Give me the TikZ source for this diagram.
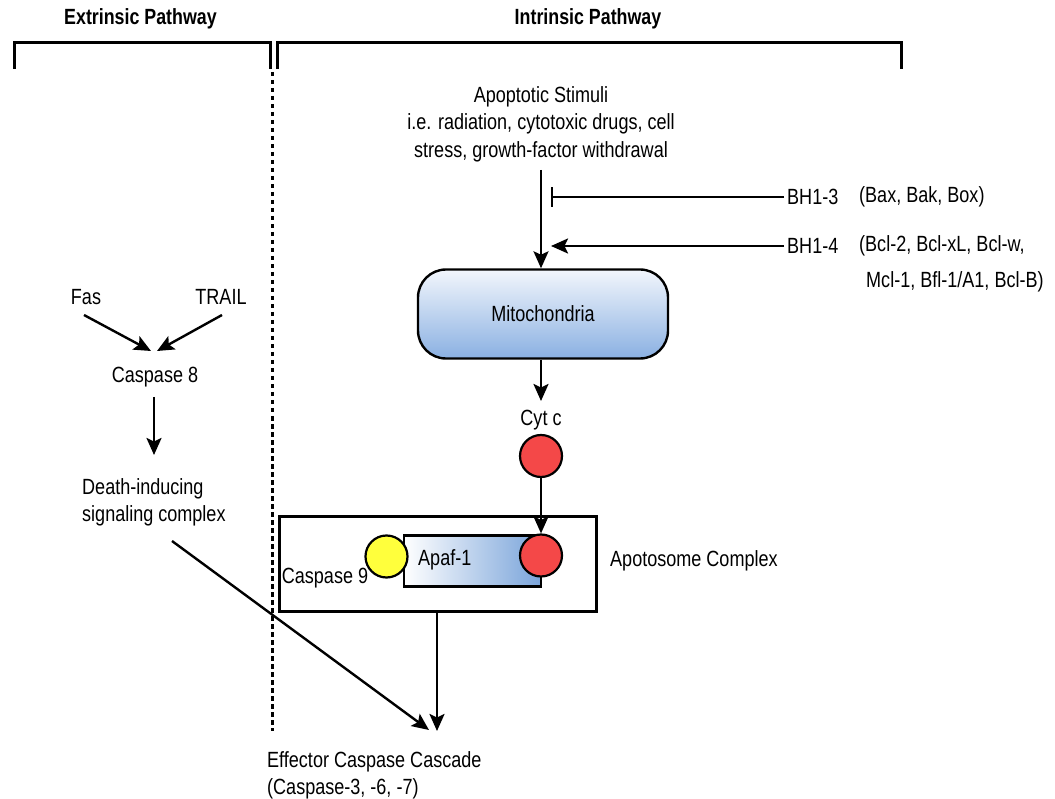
\documentclass[tikz,border=0pt]{standalone}
\usepackage{fontspec}
\setmainfont{Liberation Sans}[FakeStretch=0.82]
\newfontfamily\hdrfont{Liberation Sans Bold}[FakeStretch=0.81]
\usetikzlibrary{arrows.meta}
\definecolor{cytred}{RGB}{244,72,72}
\definecolor{casyel}{RGB}{255,255,60}
\definecolor{mitotop}{RGB}{242,246,252}
\definecolor{mitobot}{RGB}{138,176,226}
\definecolor{apafblue}{RGB}{122,164,218}
\begin{document}
\begin{tikzpicture}[x=1pt,y=-1pt,
  txt/.style={font=\fontsize{22}{27.5}\selectfont, inner sep=0pt},
  hdr/.style={font=\fontsize{22}{27}\selectfont\hdrfont, inner sep=0pt},
  arr/.style={line width=2.4pt, -{Stealth[length=17pt,width=15pt,inset=3.5pt]}},
  inhib/.style={line width=2.2pt, -{Bar[width=20pt,line width=2.2pt]}},
  brk/.style={line width=3pt},
  sep/.style={line width=3pt, dash pattern=on 4.5pt off 3.5pt},
  ball/.style={circle, draw, line width=2.2pt, minimum size=42pt, inner sep=0pt},
]
\useasboundingbox (0,0) rectangle (1055,799);

% headers and brackets
\node[hdr] (ext) at (140.5,19) {Extrinsic Pathway};
\node[hdr] (int) at (588,19) {Intrinsic Pathway};
\draw[brk] (14,69) |- (270,43) -- (270,69);
\draw[brk] (277,69) |- (901,43) -- (901,69);
\draw[sep] (272,72) -- (272,731);

% intrinsic pathway
\node[txt, align=center] (stim) at (541,124) {Apoptotic Stimuli\\i.e. radiation, cytotoxic drugs, cell\\stress, growth-factor withdrawal};
\node[draw, line width=2.4pt, rounded corners=28pt, minimum width=250pt, minimum height=89pt,
      top color=mitotop, bottom color=mitobot, txt] (mito) at (543,314) {Mitochondria};
\coordinate (stimout) at (541,170);
\draw[arr] (stimout) -- (mito.north -| stimout);

\node[txt, anchor=west] (bh13) at (787,197) {BH1-3};
\node[txt, anchor=west] (bax) at (859,197) {(Bax, Bak, Box)};
\coordinate (inh13) at (551,197);
\draw[inhib] ([xshift=-3pt]bh13.west) -- (inh13);

\node[txt, anchor=west] (bh14) at (787,246) {BH1-4};
\node[txt, anchor=west] (bcl) at (859,246) {(Bcl-2, Bcl-xL, Bcl-w,};
\node[txt, anchor=west] (mcl) at (866,282) {Mcl-1, Bfl-1/A1, Bcl-B)};
\coordinate (act14) at (551,246);
\draw[arr] ([xshift=-3pt]bh14.west) -- (act14);

\node[txt] (cyt) at (541,420) {Cyt c};
\coordinate (cytin) at (541,401);
\draw[arr] (mito.south -| cytin) -- (cytin);
\node[ball, fill=cytred] (cytc) at (541,456) {};

% apoptosome
\node[draw, line width=3pt, minimum width=317pt, minimum height=95pt, inner sep=0pt] (apo) at (437.5,564) {};
\node[draw, line width=2.2pt, minimum width=137pt, minimum height=51pt, inner sep=0pt,
      left color=white, right color=apafblue] (apaf) at (472.5,561) {};
\node[txt, anchor=west] (apaftxt) at (418,560) {Apaf-1};
\node[ball, fill=casyel] (cas9) at (386.5,556.5) {};
\node[ball, fill=cytred] (red2) at (541,555.5) {};
\node[txt] (cas9txt) at (325,578) {Caspase 9};
\node[txt, anchor=west] (apolab) at (610,561) {Apotosome Complex};
\draw[arr] (cytc.south) -- (red2.north);

% extrinsic pathway
\node[txt] (fas) at (86,297) {Fas};
\node[txt] (trail) at (221,297) {TRAIL};
\node[txt] (cas8) at (155,377) {Caspase 8};
\coordinate (fasout) at (84,315);
\coordinate (trailout) at (222,315);
\coordinate (fasin) at (151,351);
\coordinate (trailin) at (157,351);
\draw[arr] (fasout) -- (fasin);
\draw[arr] (trailout) -- (trailin);
\coordinate (c8out) at (154,397);
\coordinate (disin) at (154,455);
\draw[arr] (c8out) -- (disin);
\node[txt, align=left, anchor=north west] (disc) at (82,478) {Death-inducing\\signaling complex};

% effector
\node[txt, align=left, anchor=north west] (eff) at (267,751) {Effector Caspase Cascade\\(Caspase-3, -6, -7)};
\coordinate (discout) at (172,541);
\coordinate (effin1) at (429,730);
\coordinate (effin2) at (437,731);
\draw[arr] (discout) -- (effin1);
\draw[arr] (apo.south -| effin2) -- (effin2);
\end{tikzpicture}
\end{document}
